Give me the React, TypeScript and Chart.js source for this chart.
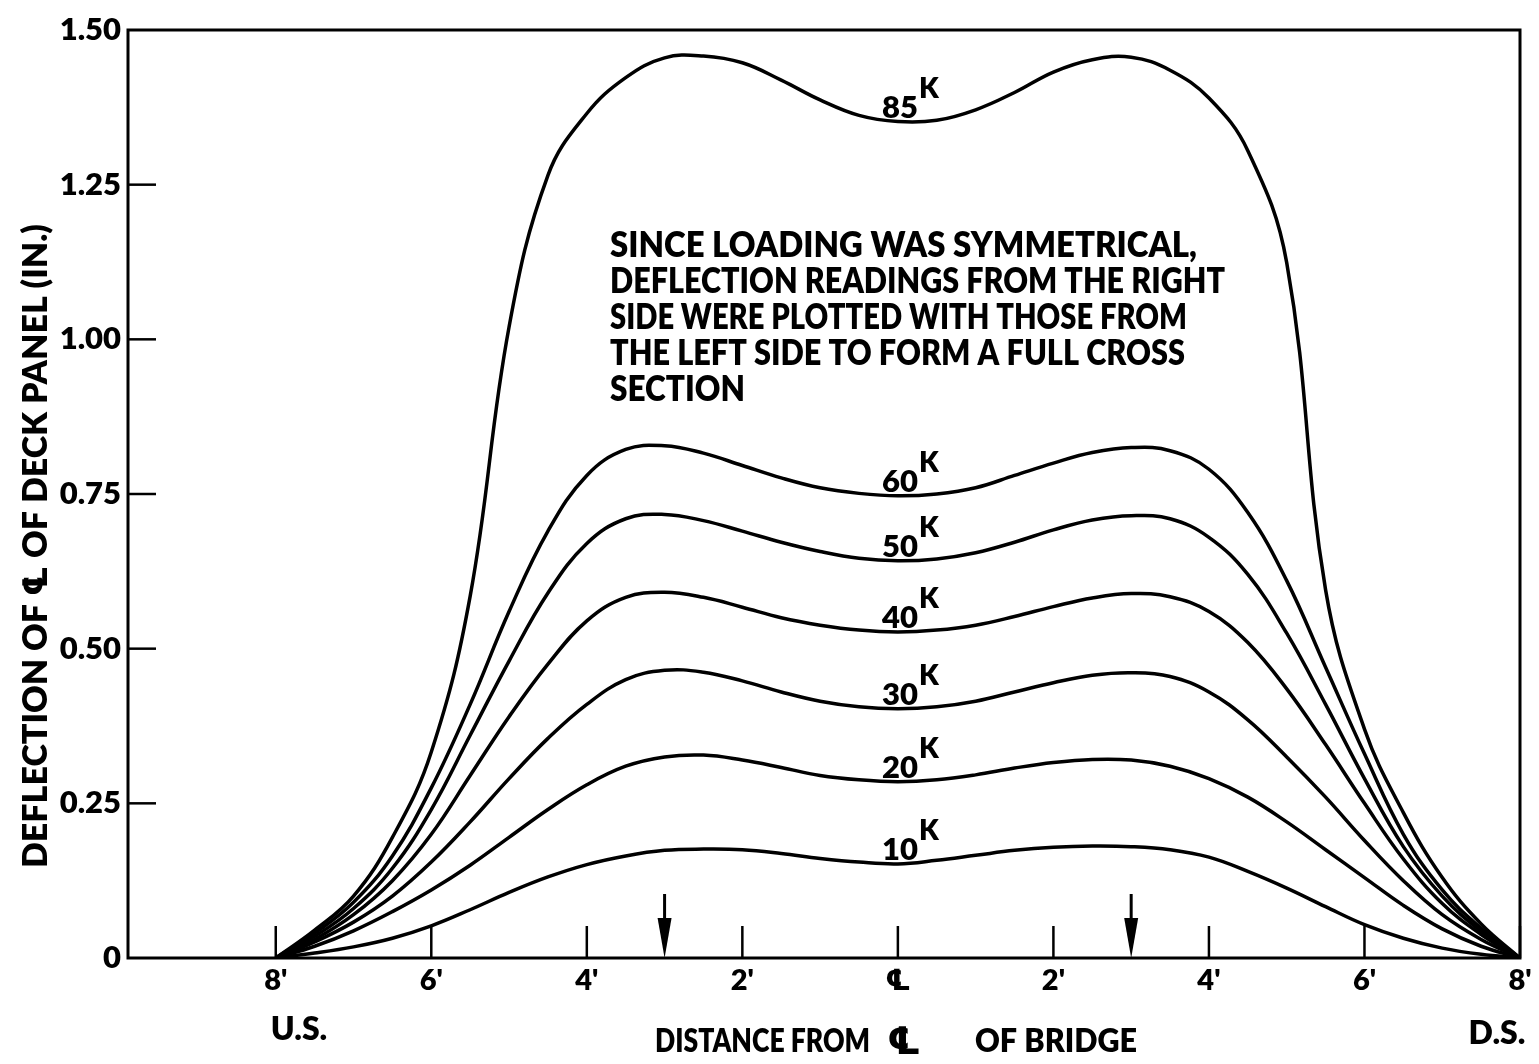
import React, { useEffect, useRef } from "react";
import { Chart, registerables } from "chart.js";

Chart.register(...registerables);

// Distance from centre line of bridge (ft); negative = upstream side
const xFeet = [
  -8, -7.5, -7, -6.5, -6, -5.5, -5, -4.5, -4, -3.5, -3, -2.5, -2, -1.5, -1, -0.5,
  0, 0.5, 1, 1.5, 2, 2.5, 3, 3.5, 4, 4.5, 5, 5.5, 6, 6.5, 7, 7.5, 8,
];

// Deflection of deck panel centre line (in.) for each load
const load85K = [
  0, 0.045, 0.1, 0.195, 0.333, 0.585, 1.02, 1.265, 1.365, 1.423, 1.455, 1.458, 1.447, 1.419, 1.387, 1.362,
  1.352, 1.354, 1.371, 1.399, 1.432, 1.452, 1.456, 1.435, 1.39, 1.305, 1.124, 0.595, 0.37, 0.235, 0.13, 0.055, 0,
];
const load60K = [
  0, 0.04, 0.09, 0.165, 0.275, 0.41, 0.56, 0.69, 0.78, 0.822, 0.828, 0.816, 0.796, 0.776, 0.76, 0.751,
  0.747, 0.75, 0.76, 0.78, 0.8, 0.817, 0.825, 0.82, 0.79, 0.72, 0.61, 0.47, 0.33, 0.2, 0.11, 0.048, 0,
];
const load50K = [
  0, 0.035, 0.08, 0.145, 0.24, 0.36, 0.48, 0.59, 0.67, 0.71, 0.717, 0.707, 0.69, 0.672, 0.657, 0.646,
  0.642, 0.645, 0.655, 0.672, 0.692, 0.708, 0.715, 0.71, 0.68, 0.62, 0.525, 0.41, 0.29, 0.18, 0.1, 0.043, 0,
];
const load40K = [
  0, 0.03, 0.07, 0.125, 0.2, 0.295, 0.39, 0.475, 0.545, 0.583, 0.591, 0.583, 0.567, 0.55, 0.538, 0.53,
  0.527, 0.53, 0.538, 0.552, 0.568, 0.582, 0.589, 0.584, 0.56, 0.51, 0.435, 0.345, 0.25, 0.16, 0.088, 0.038, 0,
];
const load30K = [
  0, 0.026, 0.058, 0.1, 0.155, 0.22, 0.29, 0.355, 0.41, 0.45, 0.465, 0.462, 0.448, 0.43, 0.415, 0.406,
  0.403, 0.406, 0.415, 0.43, 0.445, 0.457, 0.461, 0.455, 0.43, 0.385, 0.325, 0.26, 0.19, 0.125, 0.07, 0.03, 0,
];
const load20K = [
  0, 0.019, 0.044, 0.075, 0.11, 0.15, 0.195, 0.24, 0.28, 0.31, 0.325, 0.328, 0.32, 0.308, 0.295, 0.288,
  0.285, 0.288, 0.296, 0.307, 0.316, 0.321, 0.32, 0.31, 0.29, 0.26, 0.22, 0.175, 0.13, 0.085, 0.047, 0.019, 0,
];
const load10K = [
  0, 0.008, 0.018, 0.032, 0.052, 0.078, 0.106, 0.131, 0.151, 0.165, 0.174, 0.176, 0.175, 0.169, 0.161, 0.155,
  0.152, 0.158, 0.166, 0.174, 0.179, 0.181, 0.18, 0.175, 0.163, 0.14, 0.113, 0.083, 0.054, 0.032, 0.016, 0.006, 0,
];

const seriesValues = [load85K, load60K, load50K, load40K, load30K, load20K, load10K];
const seriesNames = ["85", "60", "50", "40", "30", "20", "10"];

const xTickValues = [-8, -6, -4, -2, 0, 2, 4, 6, 8];
const xTickLabels = ["8'", "6'", "4'", "2'", "\u2104", "2'", "4'", "6'", "8'"];
const yTickValues = [0, 0.25, 0.5, 0.75, 1.0, 1.25, 1.5];
const yTickLabels = ["0", "0.25", "0.50", "0.75", "1.00", "1.25", "1.50"];

const loadPositions = [-3, 3];

const noteLines = [
  "SINCE LOADING WAS SYMMETRICAL,",
  "DEFLECTION READINGS FROM THE RIGHT",
  "SIDE WERE PLOTTED WITH THOSE FROM",
  "THE LEFT SIDE TO FORM A FULL CROSS",
  "SECTION",
];
const noteWidths = [587, 615, 577, 575, 135];

const yTitle = "DEFLECTION OF \u2104 OF DECK PANEL (IN.)";
const xTitleA = "DISTANCE FROM";
const xTitleB = "OF BRIDGE";
const leftEndLabel = "U.S.";
const rightEndLabel = "D.S.";

const FONT = 'Lato, "DejaVu Sans", sans-serif';
const W = "800";

const decorPlugin = {
  id: "decor",
  afterDraw(chart: any) {
    const ctx = chart.ctx as CanvasRenderingContext2D;
    const { left, right, top, bottom } = chart.chartArea;
    const xs = chart.scales.x;
    const ys = chart.scales.y;
    ctx.save();
    ctx.strokeStyle = "#000";
    ctx.fillStyle = "#000";
    ctx.lineWidth = 3;
    ctx.strokeRect(left, top, right - left, bottom - top);

    // inward ticks
    ctx.lineWidth = 2.5;
    xTickValues.forEach((v) => {
      const px = xs.getPixelForValue(v);
      ctx.beginPath();
      ctx.moveTo(px, bottom);
      ctx.lineTo(px, bottom - 32);
      ctx.stroke();
    });
    yTickValues.slice(1, -1).forEach((v) => {
      const py = ys.getPixelForValue(v);
      ctx.beginPath();
      ctx.moveTo(left, py);
      ctx.lineTo(left + 28, py);
      ctx.stroke();
    });

    // load arrows
    loadPositions.forEach((v) => {
      const px = xs.getPixelForValue(v);
      ctx.lineWidth = 3;
      ctx.beginPath();
      ctx.moveTo(px, bottom - 64);
      ctx.lineTo(px, bottom - 30);
      ctx.stroke();
      ctx.beginPath();
      ctx.moveTo(px - 7, bottom - 40);
      ctx.lineTo(px + 7, bottom - 40);
      ctx.lineTo(px, bottom);
      ctx.closePath();
      ctx.fill();
    });

    // curve labels at the centre line
    const cx = xs.getPixelForValue(0);
    const ci = xFeet.indexOf(0);
    seriesValues.forEach((vals, i) => {
      const py = ys.getPixelForValue(vals[ci]);
      ctx.font = `${W} 31px ${FONT}`;
      ctx.textAlign = "right";
      ctx.textBaseline = "alphabetic";
      ctx.fillText(seriesNames[i], cx + 20, py - 4);
      ctx.font = `${W} 28px ${FONT}`;
      ctx.textAlign = "left";
      ctx.fillText("K", cx + 21, py - 24);
    });

    // note
    ctx.font = `${W} 35px ${FONT}`;
    ctx.textAlign = "left";
    noteLines.forEach((t, i) => {
      ctx.fillText(t, 610, 257 + i * 36, noteWidths[i]);
    });

    // bottom labels
    ctx.font = `${W} 32px ${FONT}`;
    ctx.textAlign = "center";
    ctx.fillText(leftEndLabel, 299, 1040);
    ctx.fillText(rightEndLabel, 1497, 1044);
    ctx.textAlign = "left";
    ctx.fillText(xTitleA, 655, 1052, 215);
    ctx.fillText(xTitleB, 975, 1052, 162);
    ctx.font = `${W} 38px ${FONT}`;
    ctx.textAlign = "center";
    ctx.fillText("\u2104", 904, 1054);

    // y title
    ctx.translate(36, 868);
    ctx.rotate(-Math.PI / 2);
    ctx.font = `${W} 34px ${FONT}`;
    ctx.textAlign = "left";
    ctx.textBaseline = "middle";
    ctx.fillText(yTitle, 0, 0, 773);
    ctx.restore();
  },
};

export default function App() {
  const ref = useRef<HTMLCanvasElement | null>(null);

  useEffect(() => {
    if (!ref.current) return;
    const datasets = seriesValues.map((vals, i) => ({
      label: seriesNames[i] + "K",
      data: xFeet.map((x, j) => ({ x, y: vals[j] })),
      borderColor: "#000",
      borderWidth: 3.5,
      pointRadius: 0,
      fill: false,
      showLine: true,
      tension: 0.4,
    }));
    const chart = new Chart(ref.current, {
      type: "scatter",
      data: { datasets },
      options: {
        animation: false,
        responsive: false,
        maintainAspectRatio: false,
        layout: { padding: { top: 30, right: 19, left: 0, bottom: 0 } },
        plugins: { legend: { display: false }, tooltip: { enabled: false } },
        scales: {
          x: {
            type: "linear",
            min: -9.9,
            max: 8,
            afterBuildTicks: (s: any) => {
              s.ticks = xTickValues.map((v) => ({ value: v }));
            },
            afterFit: (s: any) => {
              s.height = 106;
            },
            grid: { display: false, drawTicks: false },
            border: { display: false },
            ticks: {
              autoSkip: false,
              maxRotation: 0,
              padding: 5,
              color: "#000",
              font: { family: FONT, size: 29, weight: W },
              callback: (v: any) => xTickLabels[xTickValues.indexOf(Number(v))] ?? "",
            },
          },
          y: {
            type: "linear",
            min: 0,
            max: 1.5,
            afterBuildTicks: (s: any) => {
              s.ticks = yTickValues.map((v) => ({ value: v }));
            },
            afterFit: (s: any) => {
              s.width = 128;
            },
            grid: { display: false, drawTicks: false },
            border: { display: false },
            ticks: {
              padding: 7,
              color: "#000",
              font: { family: FONT, size: 31, weight: W },
              callback: (v: any) => yTickLabels[yTickValues.indexOf(Number(v))] ?? "",
            },
          },
        },
      },
      plugins: [decorPlugin],
    });
    return () => chart.destroy();
  }, []);

  return (
    <div style={{ position: "absolute", left: 0, top: 0, width: 1539, height: 1064, background: "#fff" }}>
      <canvas ref={ref} width={1539} height={1064} style={{ display: "block" }} />
    </div>
  );
}
